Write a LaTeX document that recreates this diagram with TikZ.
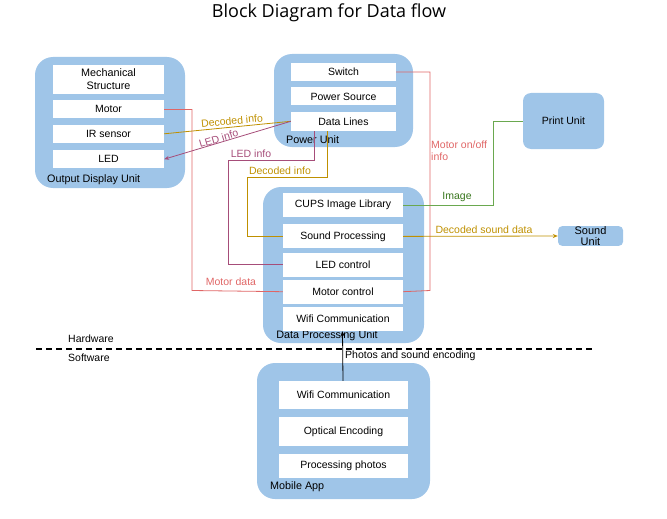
\documentclass[tikz,border=0pt]{standalone}
\usepackage{fontspec}
\setmainfont{Liberation Sans}
\newfontfamily\titlefont{Open Sans}
\usepackage{xcolor}
\usetikzlibrary{arrows.meta, positioning, calc}

\definecolor{unitblue}{HTML}{9FC5E8}
\definecolor{motorred}{HTML}{E06666}
\definecolor{infogold}{HTML}{BF9000}
\definecolor{ledpurple}{HTML}{A64D79}
\definecolor{imggreen}{HTML}{6AA84F}
\definecolor{imgtext}{HTML}{38761D}

\begin{document}
\begin{tikzpicture}[x=1pt, y=-1pt, font=\fontsize{10.5}{12}\selectfont, >={Stealth[length=5pt, width=4pt]}]
    \tikzstyle{unit}=[rectangle, fill=unitblue, rounded corners=18pt, inner sep=0pt]
    \tikzstyle{part}=[rectangle, fill=white, align=center, inner sep=0pt, minimum height=18pt]
    \tikzstyle{tag}=[inner sep=0pt, font=\fontsize{10.5}{12}\selectfont]
    \tikzstyle{unittag}=[inner sep=0pt, font=\fontsize{10.8}{12}\selectfont]
    \tikzstyle{wire}=[line width=0.8pt]
    \useasboundingbox (0,0) rectangle (667,519);

    \node[font=\titlefont\fontsize{18}{20}\selectfont] (title) at (329,13) {Block Diagram for Data flow};

    % hardware units
    \node[unit, minimum width=150pt, minimum height=131pt] (odu) at (110,122.5) {};
    \node[unit, minimum width=139pt, minimum height=93pt] (pu) at (343.5,100.5) {};
    \node[unit, minimum width=161pt, minimum height=156pt] (dpu) at (343.5,265) {};
    \node[unit, rounded corners=8pt, minimum width=81pt, minimum height=56pt] (print) at (563.5,121) {Print Unit};
    \node[unit, rounded corners=4pt, minimum width=65pt, minimum height=18pt, align=center, font=\fontsize{11}{11.5}\selectfont] (sound) at (590.5,236) {Sound\\Unit};
    \node[unit, minimum width=173pt, minimum height=136pt] (app) at (343.5,431) {};

    \node[unittag, anchor=west] (odutag) at (47,180) {Output Display Unit};
    \node[unittag, anchor=west] (putag) at (286,140) {Power Unit};
    \node[unittag] (dputag) at (327,336) {Data Processing Unit};
    \node[unittag, anchor=west] (apptag) at (270,487) {Mobile App};

    % output display unit
    \node[part, minimum width=111pt, minimum height=29pt, font=\fontsize{10.8}{13}\selectfont] (mech) at (108.5,79.5) {Mechanical\\Structure};
    \node[part, minimum width=111pt, below=6pt of mech] (motor) {Motor};
    \node[part, minimum width=111pt, below=6pt of motor] (ir) {IR sensor};
    \node[part, minimum width=111pt, below=7pt of ir] (led) {LED};

    % power unit
    \node[part, minimum width=105pt] (switch) at (343.5,72) {Switch};
    \node[part, minimum width=105pt, below=6pt of switch] (psrc) {Power Source};
    \node[part, minimum width=105pt, minimum height=19pt, below=6pt of psrc] (dlines) {Data Lines};

    % data processing unit
    \node[part, minimum width=120pt, minimum height=24pt] (cups) at (343,205) {CUPS Image Library};
    \node[part, minimum width=120pt, minimum height=24pt, below=7pt of cups] (sproc) {Sound Processing};
    \node[part, minimum width=120pt, minimum height=24pt, below=4pt of sproc] (ledc) {LED control};
    \node[part, minimum width=120pt, minimum height=24pt, below=2.5pt of ledc] (motc) {Motor control};
    \node[part, minimum width=120pt, minimum height=24pt, below=3pt of motc] (wifi) {Wifi Communication};

    % mobile app
    \node[part, minimum width=129pt, minimum height=28pt] (awifi) at (343.5,395) {Wifi Communication};
    \node[part, minimum width=129pt, minimum height=29pt, below=8pt of awifi] (optenc) {Optical Encoding};
    \node[part, minimum width=129pt, minimum height=24pt, below=7pt of optenc] (procph) {Processing photos};

    % hardware / software border
    \draw[line width=1.3pt, dash pattern=on 6pt off 4pt] (36,349) -- (592,349);
    \node[tag, anchor=west] (hw) at (68,339) {Hardware};
    \node[tag, anchor=west] (sw) at (68,358) {Software};

    % connectors
    \draw[wire, motorred] (motor.east) -| (192,290.5) -- (motc.west);
    \node[tag, text=motorred] (motdata) at (231,282) {Motor data};
    \draw[wire, motorred] (switch.east) -| (430,290.5) -- (motc.east);
    \node[tag, text=motorred, anchor=west, align=left] (onoff) at (431,151) {Motor on/off\\info};

    \draw[wire, infogold] (ir.east) -- node[pos=0.54, above=2pt, sloped, tag, text=infogold] {Decoded info} (dlines.west);
    \draw[wire, ledpurple, ->] (dlines.west) -- node[pos=0.56, above=0pt, sloped, tag, text=ledpurple] {LED info} (led.east);

    \draw[wire, ledpurple] ([xshift=-29.5pt]dlines.south) |- (228,160) |- (ledc.west);
    \node[tag, text=ledpurple] (ledinfo) at (251,154) {LED info};
    \draw[wire, infogold] ([xshift=-16.5pt]dlines.south) |- (247,177) |- (sproc.west);
    \node[tag, text=infogold] (decinfo) at (280,171) {Decoded info};

    \draw[wire, imggreen] (cups.east) -| (493,121) -- (print.west);
    \node[tag, text=imgtext] (image) at (457,197) {Image};
    \draw[wire, infogold, ->] (sproc.east) -- (sound.west);
    \node[tag, text=infogold] (sounddata) at (484,230) {Decoded sound data};

    \draw[wire, ->] ([xshift=-0.5pt]awifi.north) -- ([xshift=-0.5pt]wifi.south);
    \node[tag, anchor=west] (photos) at (345,356) {Photos and sound encoding};
\end{tikzpicture}
\end{document}
